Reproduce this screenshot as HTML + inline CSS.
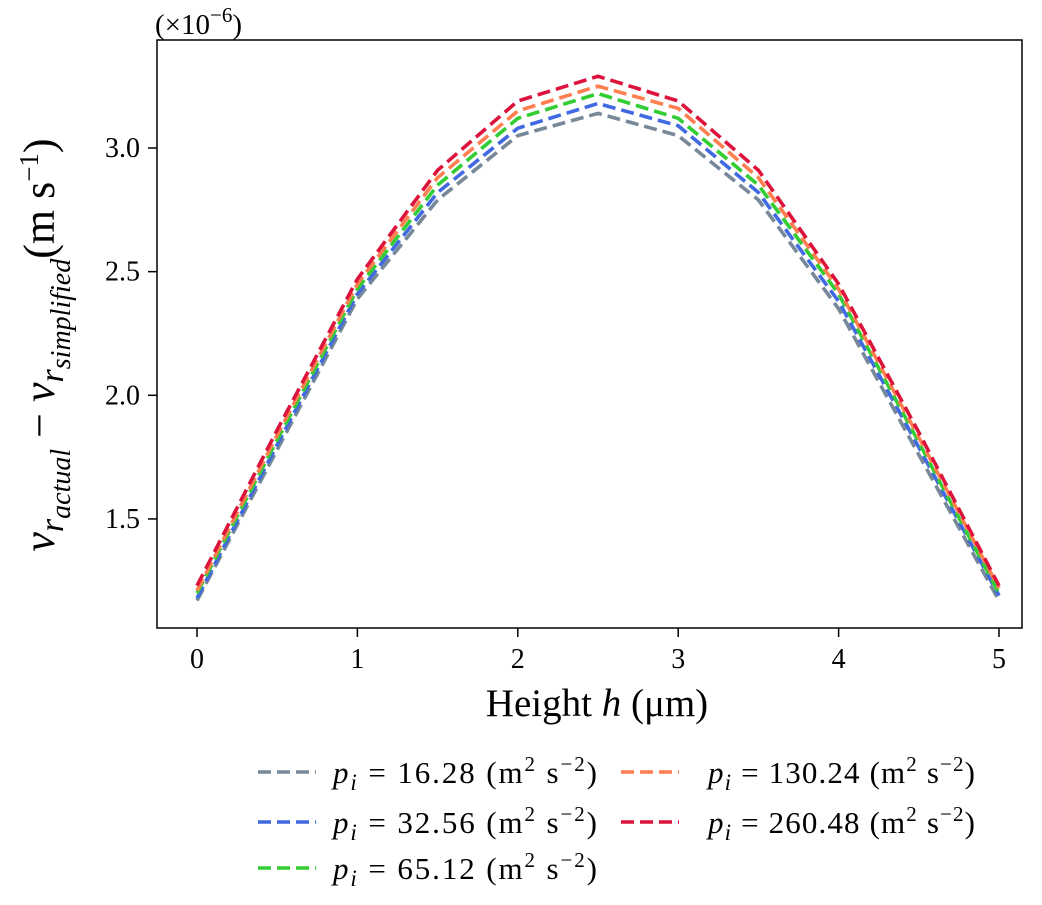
<!DOCTYPE html>
<html><head><meta charset="utf-8"><style>
body{margin:0;background:#fff;}
svg text{font-family:"Liberation Serif",serif;fill:#000;}
</style></head><body>
<svg id="chart" width="1042" height="900">
<g id="marks"></g>
<rect x="157" y="40" width="865" height="588" fill="none" stroke="#000" stroke-width="1.5"/>
<g id="axes"></g>
<text x="155" y="34" font-size="29">(×10<tspan dy="-12" font-size="21">−6</tspan><tspan dy="12">)</tspan></text>
<text x="597" y="716" font-size="39" text-anchor="middle">Height <tspan font-style="italic">h</tspan> (μm)</text>
<text transform="translate(54,345) rotate(-90)" font-size="44" text-anchor="middle"><tspan font-style="italic">v</tspan><tspan font-style="italic" font-size="34" dy="9">r</tspan><tspan font-style="italic" font-size="28" dy="7">actual</tspan><tspan dy="-16"> − </tspan><tspan font-style="italic">v</tspan><tspan font-style="italic" font-size="34" dy="9">r</tspan><tspan font-style="italic" font-size="28" dy="7">simplified</tspan><tspan dy="-16">(m s</tspan><tspan font-size="27" dy="-16">−1</tspan><tspan dy="16">)</tspan></text>
<g id="legend"></g>
</svg>
<script>
const heights=[0,0.5,1,1.5,2,2.5,3,3.5,4,4.5,5];
const s1=[1.17,1.78,2.39,2.79,3.05,3.14,3.05,2.79,2.35,1.76,1.17];
const s2=[1.18,1.80,2.41,2.82,3.08,3.18,3.09,2.82,2.38,1.79,1.19];
const s3=[1.20,1.82,2.43,2.85,3.12,3.22,3.12,2.85,2.41,1.81,1.20];
const s4=[1.21,1.84,2.45,2.88,3.15,3.25,3.16,2.88,2.43,1.83,1.22];
const s5=[1.23,1.86,2.47,2.91,3.19,3.29,3.19,2.91,2.45,1.85,1.23];
const labels=["16.28","32.56","65.12","130.24","260.48"];
const xTicks=[0,1,2,3,4,5];
const yTicks=[1.5,2.0,2.5,3.0];
const series=[s1,s2,s3,s4,s5];
const colors=["#778899","#4169e1","#32cd32","#ff7f50","#dc143c"];
const NS="http://www.w3.org/2000/svg";
const X=v=>197+v*160.4;
const Y=v=>148-(v-3.0)*247.3;
function mk(t,a,p){const e=document.createElementNS(NS,t);for(const k in a)e.setAttribute(k,a[k]);p.appendChild(e);return e;}
const marks=document.getElementById('marks'),axes=document.getElementById('axes'),leg=document.getElementById('legend');
series.forEach((s,i)=>{
 const p=mk('polyline',{points:s.map((v,j)=>X(heights[j])+','+Y(v)).join(' '),fill:'none',stroke:colors[i],'stroke-width':3.6,'stroke-dasharray':'13,6'},marks);
 
 
});
xTicks.forEach(t=>{
 const l=mk('line',{x1:X(t),x2:X(t),y1:628,y2:637,stroke:'#000','stroke-width':1.5},axes);
 
 
 const tx=mk('text',{x:X(t),y:668,'font-size':28,'text-anchor':'middle'},axes);tx.textContent=t;
 
 
});
yTicks.forEach(t=>{
 const l=mk('line',{x1:148,x2:157,y1:Y(t),y2:Y(t),stroke:'#000','stroke-width':1.5},axes);
 
 
 const tx=mk('text',{x:140,y:Y(t)+9,'font-size':28,'text-anchor':'end'},axes);tx.textContent=t.toFixed(1);
 
 
});
const pos=[[258,772,333],[258,822,333],[258,868,333],[621,772,708],[621,822,708]];
labels.forEach((lb,i)=>{
 const g=mk('g',{},leg);
 
 
 const [x,y,tx]=pos[i];
 mk('line',{x1:x,x2:x+58,y1:y,y2:y,stroke:colors[i],'stroke-width':3.6,'stroke-dasharray':'13,6'},g);
 const t=mk('text',{x:tx,y:y+11,'font-size':31,textLength:lb.length>5?267:264,lengthAdjust:'spacing'},g);
 t.innerHTML='<tspan font-style="italic">p</tspan><tspan font-style="italic" font-size="23" dy="7">i</tspan><tspan dy="-7"> = '+lb+' (m</tspan><tspan font-size="21" dy="-12">2</tspan><tspan dy="12"> s</tspan><tspan font-size="21" dy="-12">−2</tspan><tspan dy="12">)</tspan>';
});
</script>
</body></html>
